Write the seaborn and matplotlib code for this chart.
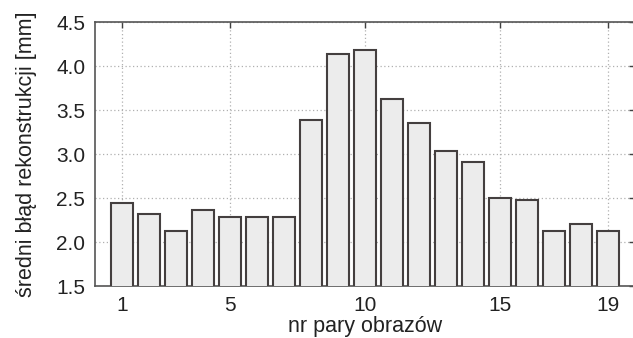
import matplotlib
matplotlib.use("Agg")
import matplotlib.pyplot as plt
import seaborn as sns
import pandas as pd

pairs = list(range(1, 20))
errors = [2.44, 2.32, 2.12, 2.36, 2.28, 2.28, 2.28, 3.39, 4.14, 4.18,
          3.63, 3.35, 3.03, 2.91, 2.50, 2.48, 2.12, 2.20, 2.12]
xticks = [1, 5, 10, 15, 19]
yticks = [1.5, 2.0, 2.5, 3.0, 3.5, 4.0, 4.5]

sns.set_theme(style="white")
plt.rcParams['font.family'] = ['Liberation Sans', 'DejaVu Sans']

W, H = 633, 338
fig = plt.figure(figsize=(W / 100, H / 100), dpi=100)
ax = fig.add_axes([95 / W, (H - 286) / H, 540 / W, 264 / H])

df = pd.DataFrame({"pair": pairs, "err": errors})
sns.barplot(data=df, x="pair", y="err", native_scale=True, width=0.8,
            color="#ececec", edgecolor="#443f3f", linewidth=1.5,
            saturation=1, ax=ax, zorder=3)

ax.set_xlim(0, 20)
ax.set_ylim(1.5, 4.5)
ax.set_xticks(xticks)
ax.set_xticklabels([str(t) for t in xticks])
ax.set_yticks(yticks)
ax.set_yticklabels([f"{t:.1f}" for t in yticks])
ax.grid(True, linestyle=(0, (1, 2)), color="#b0b0b0", linewidth=0.9, zorder=0)
ax.set_axisbelow(True)
ax.tick_params(direction="in", length=4, width=1, color="#404040",
               top=True, right=True, labelsize=15, labelcolor="#222222", pad=7)
for s in ax.spines.values():
    s.set_color("#555555")
    s.set_linewidth(1.2)
    s.set_visible(True)
ax.set_xlabel("nr pary obrazów", fontsize=15.5, color="#222222", labelpad=1)
ax.set_ylabel("średni błąd rekonstrukcji [mm]", fontsize=15.5, color="#222222", labelpad=14)

fig.savefig("out.png", dpi=100)
